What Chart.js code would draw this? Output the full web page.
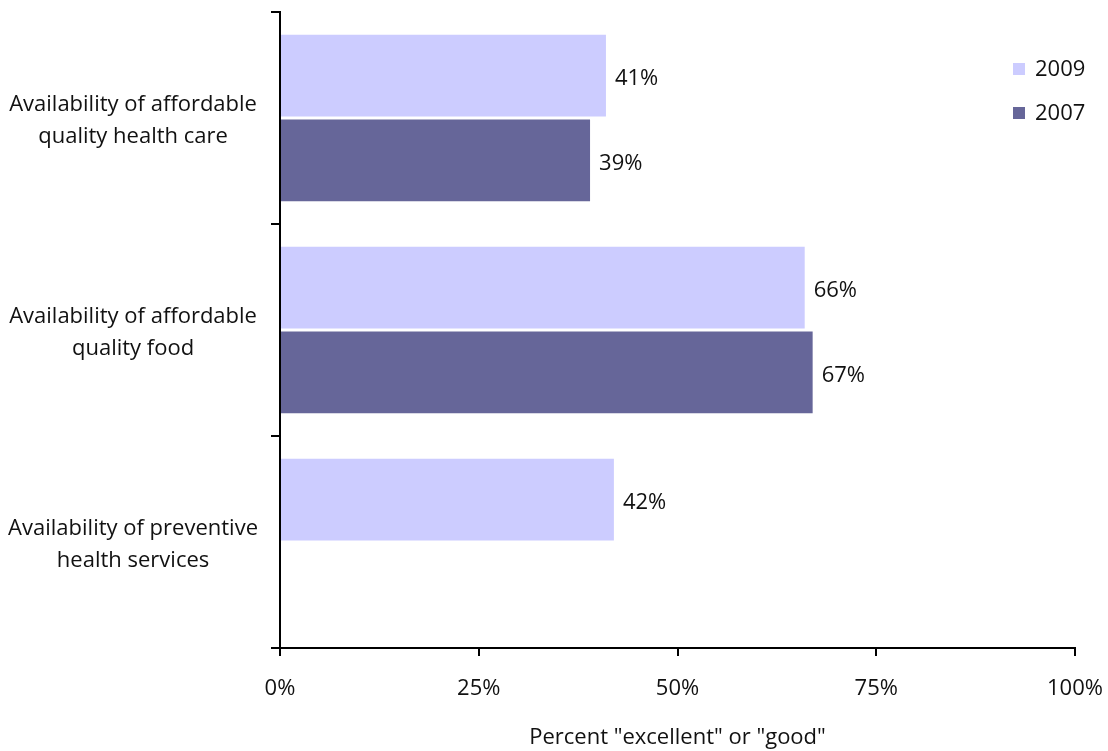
<!DOCTYPE html>
<html>
<head>
<meta charset="utf-8">
<script src="https://cdn.jsdelivr.net/npm/chart.js@4.4.1/dist/chart.umd.min.js"></script>
<style>
html,body{margin:0;padding:0;background:#fff;}
#wrap{position:relative;width:1108px;height:751px;}
</style>
</head>
<body>
<div id="wrap"><canvas id="c" width="1108" height="751"></canvas></div>
<script>
const categories = [
  ["Availability of affordable", "quality health care"],
  ["Availability of affordable", "quality food"],
  ["Availability of preventive", "health services"]
];
const seriesNames = ["2009", "2007"];
const values2009 = [41, 66, 42];
const values2007 = [39, 67, null];
const xTicks = [0, 25, 50, 75, 100];
const xTitle = 'Percent "excellent" or "good"';
const colors = ["#CCCCFF", "#666699"];

const FONT = "'Open Sans', sans-serif";

const valueLabels = {
  id: 'valueLabels',
  afterDatasetsDraw(chart) {
    const ctx = chart.ctx;
    ctx.save();
    ctx.font = "22px " + FONT;
    ctx.fillStyle = "#111";
    ctx.textAlign = "left";
    ctx.textBaseline = "middle";
    chart.data.datasets.forEach((ds, di) => {
      const meta = chart.getDatasetMeta(di);
      meta.data.forEach((bar, i) => {
        const v = ds.data[i];
        if (v === null || v === undefined) return;
        ctx.fillText(v + "%", bar.x + 9, bar.y + 3);
      });
    });
    ctx.restore();
  }
};

const customLegend = {
  id: 'customLegend',
  afterDraw(chart) {
    const ctx = chart.ctx;
    ctx.save();
    ctx.font = "22px " + FONT;
    ctx.textBaseline = "middle";
    ctx.textAlign = "left";
    chart.data.datasets.forEach((ds, i) => {
      const cy = 69 + i * 44;
      ctx.fillStyle = ds.backgroundColor;
      ctx.fillRect(1013, cy - 6, 12, 12);
      ctx.fillStyle = "#111";
      ctx.fillText(ds.label, 1035, cy + 1);
    });
    ctx.restore();
  }
};

function zeroPad(axis) {
  axis.paddingTop = 0; axis.paddingBottom = 0;
  axis.paddingLeft = 0; axis.paddingRight = 0;
}

new Chart(document.getElementById('c'), {
  type: 'bar',
  data: {
    labels: categories,
    datasets: [
      { label: seriesNames[0], data: values2009, backgroundColor: colors[0] },
      { label: seriesNames[1], data: values2007, backgroundColor: colors[1] }
    ]
  },
  options: {
    indexAxis: 'y',
    responsive: false,
    animation: false,
    devicePixelRatio: 1,
    categoryPercentage: 0.8,
    barPercentage: 0.965,
    layout: { padding: { top: 12, right: 33, left: 0, bottom: 0 } },
    plugins: { legend: { display: false }, tooltip: { enabled: false } },
    scales: {
      x: {
        min: 0, max: 100,
        afterBuildTicks(axis) { axis.ticks = xTicks.map(v => ({ value: v })); },
        afterFit(axis) { axis.height = 103; zeroPad(axis); },
        ticks: {
          color: "#111",
          font: { family: FONT, size: 22 },
          padding: 20,
          callback: v => v + "%"
        },
        grid: { drawOnChartArea: false, tickLength: 8, color: "#000", lineWidth: 2 },
        border: { color: "#000", width: 2 },
        title: {
          display: true, text: xTitle, color: "#111",
          font: { family: FONT, size: 22 },
          padding: { top: -1, bottom: 0 }
        }
      },
      y: {
        afterFit(axis) { axis.width = 280; zeroPad(axis); },
        ticks: {
          color: "#111",
          crossAlign: 'center',
          padding: 13,
          labelOffset: 3,
          font: { family: FONT, size: 22, lineHeight: 1.45 }
        },
        grid: { drawOnChartArea: false, offset: true, tickLength: 9, color: "#000", lineWidth: 2 },
        border: { color: "#000", width: 2 }
      }
    }
  },
  plugins: [valueLabels, customLegend]
});
</script>
</body>
</html>
